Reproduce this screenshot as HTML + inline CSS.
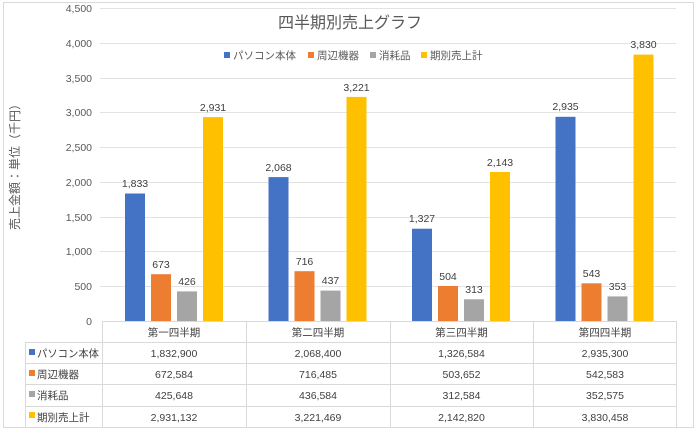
<!DOCTYPE html>
<html><head><meta charset="utf-8"><style>
html,body{margin:0;padding:0;background:#fff;}
svg{display:block;font-family:"Liberation Sans","Noto Sans CJK JP",sans-serif;}
</style></head><body>
<svg width="700" height="430" viewBox="0 0 700 430" xmlns="http://www.w3.org/2000/svg">
<rect x="3.5" y="2.5" width="690" height="425" fill="#fff" stroke="#d9d9d9"/>
<g stroke="#e3e3e3" stroke-width="1">
<line x1="100" x2="676" y1="8.5" y2="8.5"/>
<line x1="100" x2="676" y1="43.5" y2="43.5"/>
<line x1="100" x2="676" y1="78.5" y2="78.5"/>
<line x1="100" x2="676" y1="112.5" y2="112.5"/>
<line x1="100" x2="676" y1="147.5" y2="147.5"/>
<line x1="100" x2="676" y1="182.5" y2="182.5"/>
<line x1="100" x2="676" y1="217.5" y2="217.5"/>
<line x1="100" x2="676" y1="251.5" y2="251.5"/>
<line x1="100" x2="676" y1="286.5" y2="286.5"/>
</g>
<g font-size="10.5" fill="#595959" text-anchor="end">
<text x="92" y="12">4,500</text><text x="92" y="47">4,000</text><text x="92" y="82">3,500</text>
<text x="92" y="116">3,000</text><text x="92" y="151">2,500</text><text x="92" y="186">2,000</text>
<text x="92" y="221">1,500</text><text x="92" y="255">1,000</text><text x="92" y="290">500</text>
<text x="92" y="325">0</text>
</g>
<text transform="translate(19,164) rotate(-90)" font-size="12" fill="#595959" text-anchor="middle">売上金額：単位（千円）</text>
<text x="350" y="28" font-size="16" fill="#595959" text-anchor="middle">四半期別売上グラフ</text>
<g font-size="10.5" fill="#595959">
<rect x="224" y="52" width="6" height="6" fill="#4472c4"/><text x="233" y="59">パソコン本体</text>
<rect x="308" y="52" width="6" height="6" fill="#ed7d31"/><text x="317" y="59">周辺機器</text>
<rect x="370" y="52" width="6" height="6" fill="#a5a5a5"/><text x="379" y="59">消耗品</text>
<rect x="421" y="52" width="6" height="6" fill="#ffc000"/><text x="430" y="59">期別売上計</text>
</g>
<g>
<rect x="125" y="193.5" width="20" height="127.5" fill="#4472c4"/>
<rect x="151" y="274.2" width="20" height="46.8" fill="#ed7d31"/>
<rect x="177" y="291.4" width="20" height="29.6" fill="#a5a5a5"/>
<rect x="203" y="117.1" width="20" height="203.9" fill="#ffc000"/>
<rect x="268.5" y="177.1" width="20" height="143.9" fill="#4472c4"/>
<rect x="294.5" y="271.2" width="20" height="49.8" fill="#ed7d31"/>
<rect x="320.5" y="290.6" width="20" height="30.4" fill="#a5a5a5"/>
<rect x="346.5" y="96.9" width="20" height="224.1" fill="#ffc000"/>
<rect x="412" y="228.7" width="20" height="92.3" fill="#4472c4"/>
<rect x="438" y="286" width="20" height="35" fill="#ed7d31"/>
<rect x="464" y="299.3" width="20" height="21.7" fill="#a5a5a5"/>
<rect x="490" y="172" width="20" height="149" fill="#ffc000"/>
<rect x="555.5" y="116.8" width="20" height="204.2" fill="#4472c4"/>
<rect x="581.5" y="283.3" width="20" height="37.7" fill="#ed7d31"/>
<rect x="607.5" y="296.4" width="20" height="24.6" fill="#a5a5a5"/>
<rect x="633.5" y="54.6" width="20" height="266.4" fill="#ffc000"/>
</g>
<g font-size="10.5" fill="#404040" text-anchor="middle">
<text x="135" y="187">1,833</text><text x="161" y="268">673</text><text x="187" y="285">426</text><text x="213" y="111">2,931</text>
<text x="278.5" y="171">2,068</text><text x="304.5" y="265">716</text><text x="330.5" y="284">437</text><text x="356.5" y="91">3,221</text>
<text x="422" y="222">1,327</text><text x="448" y="280">504</text><text x="474" y="293">313</text><text x="500" y="166">2,143</text>
<text x="565.5" y="110">2,935</text><text x="591.5" y="277">543</text><text x="617.5" y="290">353</text><text x="643.5" y="48">3,830</text>
</g>
<g stroke="#d9d9d9" stroke-width="1">
<line x1="102" x2="676" y1="321.5" y2="321.5"/>
<line x1="25" x2="676" y1="342.5" y2="342.5"/>
<line x1="25" x2="676" y1="363.5" y2="363.5"/>
<line x1="25" x2="676" y1="384.5" y2="384.5"/>
<line x1="25" x2="676" y1="406.5" y2="406.5"/>
<line x1="25.5" x2="25.5" y1="342" y2="427"/>
<line x1="102.5" x2="102.5" y1="321" y2="427"/>
<line x1="246.5" x2="246.5" y1="321" y2="427"/>
<line x1="390.5" x2="390.5" y1="321" y2="427"/>
<line x1="533.5" x2="533.5" y1="321" y2="427"/>
<line x1="676.5" x2="676.5" y1="321" y2="427"/>
</g>
<g font-size="10.5" fill="#404040" text-anchor="middle">
<text x="174" y="336">第一四半期</text><text x="318" y="336">第二四半期</text><text x="461.5" y="336">第三四半期</text><text x="605" y="336">第四四半期</text>
<text x="174" y="357">1,832,900</text><text x="318" y="357">2,068,400</text><text x="461.5" y="357">1,326,584</text><text x="605" y="357">2,935,300</text>
<text x="174" y="378">672,584</text><text x="318" y="378">716,485</text><text x="461.5" y="378">503,652</text><text x="605" y="378">542,583</text>
<text x="174" y="399">425,648</text><text x="318" y="399">436,584</text><text x="461.5" y="399">312,584</text><text x="605" y="399">352,575</text>
<text x="174" y="421">2,931,132</text><text x="318" y="421">3,221,469</text><text x="461.5" y="421">2,142,820</text><text x="605" y="421">3,830,458</text>
</g>
<g font-size="10.5" fill="#404040">
<rect x="29" y="349" width="6" height="6" fill="#4472c4"/><text x="37" y="357" textLength="62" lengthAdjust="spacingAndGlyphs">パソコン本体</text>
<rect x="29" y="370" width="6" height="6" fill="#ed7d31"/><text x="37" y="378">周辺機器</text>
<rect x="29" y="391" width="6" height="6" fill="#a5a5a5"/><text x="37" y="399">消耗品</text>
<rect x="29" y="412" width="6" height="6" fill="#ffc000"/><text x="37" y="421">期別売上計</text>
</g>
</svg>
</body></html>
